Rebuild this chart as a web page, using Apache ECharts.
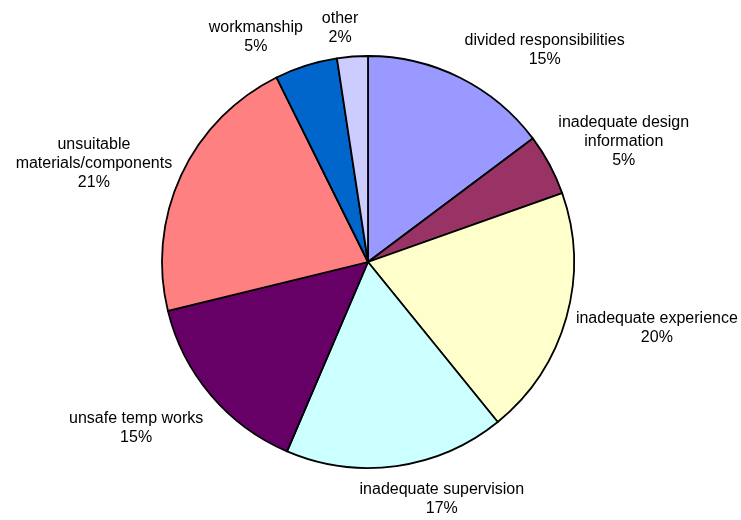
<!DOCTYPE html>
<html><head><meta charset="utf-8">
<script src="https://cdn.jsdelivr.net/npm/echarts@6/dist/echarts.min.js"></script>
<style>html,body{margin:0;padding:0;background:#fff}#c{width:741px;height:520px}</style>
</head><body><div id="c"></div>
<script>
const categories = [
  'divided responsibilities',
  'inadequate design\ninformation',
  'inadequate experience',
  'inadequate supervision',
  'unsafe temp works',
  'unsuitable\nmaterials/components',
  'workmanship',
  'other'
];
const values = [14.7, 4.8, 19.5, 17.2, 14.7, 21.4, 4.9, 2.4];
const colors = ['#9999FF', '#993366', '#FFFFCC', '#CCFFFF', '#660066', '#FF8080', '#0066CC', '#CCCCFF'];

function clamp(v) { return Math.max(-1, Math.min(1, v)); }

const chart = echarts.init(document.getElementById('c'), null, { renderer: 'canvas' });
chart.setOption({
  animation: false,
  backgroundColor: '#ffffff',
  series: [{
    type: 'pie',
    center: [368, 262],
    radius: 206,
    startAngle: 90,
    clockwise: true,
    avoidLabelOverlap: false,
    data: categories.map((n, i) => ({ name: n, value: values[i], itemStyle: { color: colors[i] } })),
    itemStyle: { borderColor: '#000', borderWidth: 1.8 },
    label: {
      show: true,
      position: 'outside',
      color: '#000',
      fontFamily: '"Liberation Sans", Arial, sans-serif',
      fontSize: 16,
      lineHeight: 19,
      formatter: p => p.name + '\n' + Math.round(p.percent) + '%'
    },
    labelLine: { show: true, length: 10, length2: 0, lineStyle: { opacity: 0 } },
    labelLayout: function (params) {
      const pts = params.labelLinePoints;
      if (!pts || pts.length < 2) return {};
      const p0 = pts[0], p1 = pts[1];
      let ux = p1[0] - p0[0], uy = p1[1] - p0[1];
      const len = Math.hypot(ux, uy) || 1; ux /= len; uy /= len;
      const hw = params.labelRect.width / 2, hh = params.labelRect.height / 2;
      const g = 10;
      let x = p0[0] + g * ux + hw * clamp(ux / 0.3);
      let y = p0[1] + g * uy + hh * clamp(uy / 0.72);
      if (ux < -0.5) y += 9;
      if (uy > 0.9) { y += 4; x += 6; }
      if (uy < -0.99) x -= 7;
      return { x: x, y: y, align: 'center', verticalAlign: 'middle' };
    },
    emphasis: { disabled: true }
  }]
});
</script>
</body></html>
